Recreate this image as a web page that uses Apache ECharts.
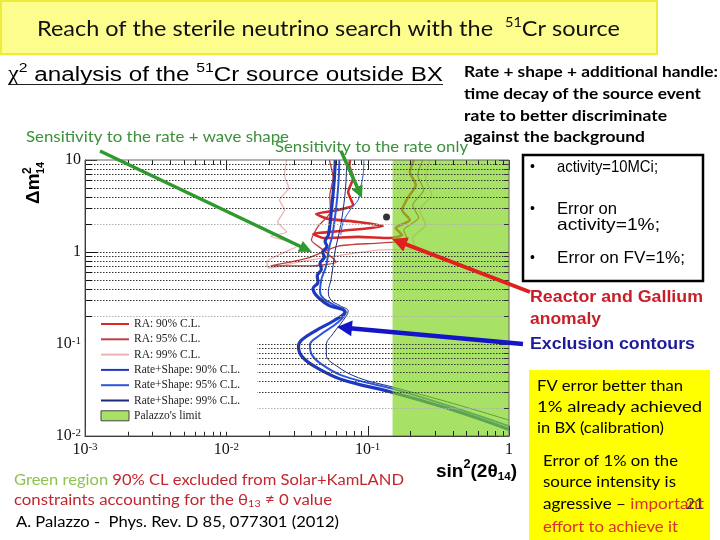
<!DOCTYPE html>
<html><head><meta charset="utf-8">
<script src="https://cdn.jsdelivr.net/npm/echarts@6/dist/echarts.min.js"></script>
<style>html,body{margin:0;padding:0;background:#fff;}#c{width:720px;height:540px;}</style>
</head><body><div id="c"></div>
<script>
// ---------- data ----------
const sin2Range = [0.001, 1];
const dm2Range = [0.01, 10];
const xDecades = [0.001, 0.01, 0.1, 1];
const yDecades = [0.01, 0.1, 1, 10];
const minorMultipliers = [2, 3, 4, 5, 6, 7, 8, 9];
const palazzoRegion = [0.15, 1];
const legendNames = ['RA: 90% C.L.', 'RA: 95% C.L.', 'RA: 99% C.L.', 'Rate+Shape: 90% C.L.', 'Rate+Shape: 95% C.L.', 'Rate+Shape: 99% C.L.', "Palazzo's limit"];

const ra90 = [[0.212,10],[0.199,7.41],[0.219,5.35],[0.192,3.86],[0.175,2.86],[0.199,2.23],[0.158,1.82],[0.175,1.53],[0.144,1.42],[0.0856,1.46],[0.0486,1.42],[0.0413,1.57],[0.0671,1.70],[0.128,1.92],[0.0856,2.12],[0.0527,2.29],[0.0432,2.59],[0.0619,2.86],[0.0789,3.24],[0.0728,4.49],[0.0789,6.37],[0.074,8.83],[0.0752,10]];
const ra95 = [[0.245,10],[0.226,6.88],[0.249,4.72],[0.208,3.24],[0.230,2.35],[0.180,1.73],[0.192,1.35],[0.118,1.25],[0.0619,1.16],[0.0381,0.861],[0.0206,0.705],[0.0381,0.705],[0.060,0.778],[0.0486,1.05],[0.040,1.35],[0.0448,1.92],[0.0545,2.72],[0.054,4.17],[0.057,6.37],[0.0535,10]];
const ra99 = [[0.275,10],[0.257,6.37],[0.284,4.17],[0.233,2.86],[0.257,1.97],[0.208,1.42],[0.219,1.10],[0.118,1.05],[0.0671,0.93],[0.0324,0.778],[0.0200,0.670],[0.0193,0.778],[0.0324,1.19],[0.0206,1.49],[0.0267,1.65],[0.0231,2.12],[0.0258,2.86],[0.0238,3.67],[0.0276,4.97],[0.0258,6.88],[0.0267,10]];
const rs90 = [[0.059,10],[0.058,6.06],[0.055,2.53],[0.0527,1.53],[0.050,1.30],[0.0515,1.15],[0.048,1.0],[0.0494,0.88],[0.046,0.75],[0.047,0.65],[0.044,0.55],[0.0445,0.47],[0.041,0.40],[0.042,0.36],[0.0448,0.32],[0.0527,0.265],[0.069,0.223],[0.058,0.18],[0.043,0.14],[0.034,0.110],[0.0324,0.093],[0.0346,0.072],[0.043,0.056],[0.067,0.0406],[0.146,0.0301],[0.367,0.0200],[1,0.0118]];
const rs95 = [[0.063,10],[0.062,5.35],[0.059,2.53],[0.056,1.46],[0.054,1.2],[0.0527,1.0],[0.051,0.72],[0.049,0.6],[0.047,0.50],[0.046,0.37],[0.049,0.31],[0.058,0.265],[0.070,0.223],[0.062,0.173],[0.046,0.125],[0.039,0.0975],[0.040,0.078],[0.046,0.062],[0.067,0.045],[0.151,0.0325],[0.367,0.0215],[1,0.0128]];
const rs99 = [[0.071,10],[0.070,5.35],[0.067,2.86],[0.063,1.65],[0.059,1.05],[0.057,0.72],[0.055,0.50],[0.0527,0.37],[0.055,0.30],[0.064,0.26],[0.0728,0.228],[0.067,0.18],[0.057,0.13],[0.051,0.0975],[0.051,0.076],[0.060,0.058],[0.086,0.043],[0.151,0.034],[0.367,0.0235],[1,0.0149]];
const rateOnly = [[0.094,10],[0.093,7.0],[0.0885,4.72],[0.0856,3.67],[0.075,2.86],[0.067,2.1],[0.0646,1.53]];
const bestFit = [[0.136, 2.4]];

// ---------- helpers ----------
const LATO = 'Lato, "Open Sans", sans-serif';
const ARIAL = '"Liberation Sans", Arial, sans-serif';
const TIMES = '"Liberation Serif", "Times New Roman", serif';
const mctx = document.createElement('canvas').getContext('2d');
function measure(t, s, w, f) { mctx.font = w + ' ' + s + 'px ' + f; return mctx.measureText(t).width; }
function run(x, y, parts, width, align) {
  let cx = 0; const ch = [];
  parts.forEach(p => {
    const w = p.w || 'normal';
    ch.push({type:'text', x: cx, y: p.dy || 0, z: 100, style:{text:p.t, fontSize:p.s, fontWeight:w, fontFamily:p.f, fill:p.c || '#000', align:'left', verticalAlign:'middle', textAlign:'left', textVerticalAlign:'middle'}});
    cx += measure(p.t, p.s, w, p.f);
  });
  const sx = width ? width / cx : 1;
  let gx = x;
  if (align === 'center') gx = x - cx * sx / 2;
  if (align === 'right') gx = x - cx * sx;
  return {type:'group', x: gx, y: y, scaleX: sx, z: 100, children: ch};
}
function arrow(x1, y1, x2, y2, color, w, hl, hw) {
  const a = Math.atan2(y2 - y1, x2 - x1);
  const bx = x2 - hl * Math.cos(a), by = y2 - hl * Math.sin(a);
  const px = -Math.sin(a) * hw, py = Math.cos(a) * hw;
  return [
    {type:'line', z: 90, shape:{x1:x1, y1:y1, x2:bx + Math.cos(a)*2, y2:by + Math.sin(a)*2}, style:{stroke:color, lineWidth:w}},
    {type:'polygon', z: 90, shape:{points:[[x2,y2],[bx+px,by+py],[bx-px,by-py]]}, style:{fill:color}}
  ];
}
function supLabel(v) {
  const e = Math.round(Math.log10(v));
  if (e === 0) return '{b|1}';
  if (e === 1) return '{b|10}';
  return '{b|10}{s|' + e + '}';
}

// tick data built from the decade lists
const yTickData = [];
yDecades.forEach(d => {
  yTickData.push([0.03, d, 1]);
  if (d < dm2Range[1]) minorMultipliers.forEach(m => yTickData.push([0.03, d * m, 0]));
});
const xTickData = [];
xDecades.forEach(d => {
  xTickData.push([d, 0.1, 1]);
  if (d < sin2Range[1]) minorMultipliers.forEach(m => xTickData.push([d * m, 0.1, 0]));
});

function lineSeries(name, data, color, width, z, smooth) {
  return {type:'line', name, data, showSymbol:false, symbol:'none', smooth: smooth, z: z,
    lineStyle:{color, width}, itemStyle:{color}, silent:true};
}

const chart = echarts.init(document.getElementById('c'), null, {renderer:'canvas'});

const graphics = [];
graphics.push({type:'rect', z: 80, shape:{x:1, y:1, width:656, height:53}, style:{fill:'#fdfd8e', stroke:'#ecec3a', lineWidth:2}});
graphics.push(run(37, 29, [
  {t:'Reach of the sterile neutrino search with the  ', s:21, f:LATO, c:'#111'},
  {t:'51', s:13, f:LATO, c:'#111', dy:-6},
  {t:'Cr source', s:21, f:LATO, c:'#111'}], 583));
graphics.push(run(8, 75, [
  {t:'χ', s:20, f:TIMES, c:'#000'},
  {t:'2', s:13, f:ARIAL, c:'#000', dy:-7},
  {t:' analysis of the ', s:20, f:ARIAL, c:'#000'},
  {t:'51', s:13, f:ARIAL, c:'#000', dy:-7},
  {t:'Cr source outside BX', s:20, f:ARIAL, c:'#000'}], 435));
graphics.push({type:'line', z: 100, shape:{x1:8, y1:84.5, x2:443, y2:84.5}, style:{stroke:'#222', lineWidth:1}});

graphics.push(run(464, 72, [{t:'Rate + shape + additional handle:', s:16, w:'bold', f:LATO}], 254));
graphics.push(run(464, 94, [{t:'time decay of the source event', s:16, w:'bold', f:LATO}], 237));
graphics.push(run(464, 116, [{t:'rate to better discriminate', s:16, w:'bold', f:LATO}], 203));
graphics.push(run(464, 137, [{t:'against the background', s:16, w:'bold', f:LATO}], 181));

graphics.push(run(26, 137, [{t:'Sensitivity to the rate + wave shape', s:15, f:LATO, c:'#3a913a'}], 263));
graphics.push(run(275, 147, [{t:'Sensitivity to the rate only', s:15, f:LATO, c:'#3a913a'}], 193));

arrow(100, 151, 312, 252, '#2e9a2e', 3.5, 13, 6).forEach(g => graphics.push(g));
arrow(341, 151, 362, 198, '#2e9a2e', 3.5, 12, 6).forEach(g => graphics.push(g));
arrow(530, 292, 392, 239, '#e01f1f', 4, 15, 7.5).forEach(g => graphics.push(g));
arrow(523, 344, 337, 327, '#1414c8', 4.5, 15, 8).forEach(g => graphics.push(g));

// bullet box
graphics.push({type:'rect', z: 80, shape:{x:523, y:155, width:180, height:126}, style:{fill:'#fff', stroke:'#000', lineWidth:2.5}});
[[167,'activity=10MCi;',101],[258,'Error on FV=1%;',128],[209,'Error on',60]].forEach(r => {
  graphics.push(run(530, r[0], [{t:'•', s:14, f:ARIAL}]));
  graphics.push(run(557, r[0], [{t:r[1], s:16.5, f:ARIAL}], r[2]));
});
graphics.push(run(557, 225, [{t:'activity=1%;', s:16.5, f:ARIAL}], 103));

graphics.push(run(530, 297, [{t:'Reactor and Gallium', s:16.5, w:'bold', f:ARIAL, c:'#c81e28'}], 173));
graphics.push(run(530, 319, [{t:'anomaly', s:16.5, w:'bold', f:ARIAL, c:'#c81e28'}], 71));
graphics.push(run(530, 344, [{t:'Exclusion contours', s:16.5, w:'bold', f:ARIAL, c:'#1c1c9a'}], 165));

// yellow notes
graphics.push({type:'rect', z: 80, shape:{x:529, y:370, width:181, height:170}, style:{fill:'#ffff00'}});
graphics.push(run(537, 386, [{t:'FV error better than', s:15.5, f:LATO}], 146));
graphics.push(run(537, 407, [{t:'1% already achieved', s:15.5, f:LATO}], 165));
graphics.push(run(537, 428, [{t:'in BX (calibration)', s:15.5, f:LATO}], 127));
graphics.push(run(543, 461, [{t:'Error of 1% on the', s:15.5, f:LATO}], 135));
graphics.push(run(543, 482, [{t:'source intensity is', s:15.5, f:LATO}], 133));
graphics.push(run(543, 504, [{t:'agressive – ', s:15.5, f:LATO}, {t:'important', s:15.5, f:LATO, c:'#d9302a'}], 161));
graphics.push(run(686, 504, [{t:'21', s:15, f:LATO, c:'#333'}]));
graphics.push(run(543, 527, [{t:'effort to achieve it', s:15.5, f:LATO, c:'#d9302a'}], 135));

// bottom notes
graphics.push(run(14, 480, [{t:'Green region ', s:15.5, f:LATO, c:'#8dc450'}, {t:'90% CL excluded from Solar+KamLAND', s:15.5, f:LATO, c:'#c3262e'}], 390));
graphics.push(run(14, 500, [{t:'constraints accounting for the θ', s:15.5, f:LATO, c:'#c3262e'}, {t:'13', s:10, f:LATO, c:'#c3262e', dy:4}, {t:' ≠ 0 value', s:15.5, f:LATO, c:'#c3262e'}], 318));
graphics.push(run(16, 522, [{t:'A. Palazzo -  Phys. Rev. D 85, 077301 (2012)', s:15.5, f:LATO, c:'#000'}], 323));

// axis names
graphics.push(run(436, 472, [
  {t:'sin', s:18, w:'bold', f:ARIAL}, {t:'2', s:12, w:'bold', f:ARIAL, dy:-7},
  {t:'(2θ', s:18, w:'bold', f:ARIAL}, {t:'14', s:11, w:'bold', f:ARIAL, dy:5},
  {t:')', s:18, w:'bold', f:ARIAL}], 81));
graphics.push({type:'group', x:34, y:204, rotation:Math.PI/2, z:100, children:[
  {type:'text', x:0, y:0, z:100, style:{text:'Δm', fontSize:19, fontWeight:'bold', fontFamily:ARIAL, fill:'#000', align:'left', verticalAlign:'middle', textAlign:'left', textVerticalAlign:'middle'}},
  {type:'text', x:30, y:-6, z:100, style:{text:'2', fontSize:12, fontWeight:'bold', fontFamily:ARIAL, fill:'#000', align:'left', verticalAlign:'middle', textAlign:'left', textVerticalAlign:'middle'}},
  {type:'text', x:30, y:7, z:100, style:{text:'14', fontSize:11, fontWeight:'bold', fontFamily:ARIAL, fill:'#000', align:'left', verticalAlign:'middle', textAlign:'left', textVerticalAlign:'middle'}}
]});

const labelRich = {
  b: {fontFamily: TIMES, fontSize: 16, color: '#111'},
  s: {fontFamily: TIMES, fontSize: 11, color: '#111', verticalAlign: 'top'}
};

const option = {
  animation: false,
  backgroundColor: '#fff',
  grid: {left: 85, top: 160, width: 424, height: 276, show: true, borderColor: '#666', borderWidth: 1, backgroundColor: 'transparent', z: 6},
  xAxis: {type: 'log', logBase: 10, min: sin2Range[0], max: sin2Range[1],
    axisLine: {show: true, lineStyle: {color: '#111', width: 1}}, axisTick: {show: false}, splitLine: {show: false},
    axisLabel: {margin: 6, formatter: supLabel, rich: labelRich, showMinLabel: true, showMaxLabel: true}},
  yAxis: {type: 'log', logBase: 10, min: dm2Range[0], max: dm2Range[1],
    axisLine: {show: true, lineStyle: {color: '#111', width: 1}}, axisTick: {show: false}, splitLine: {show: false},
    axisLabel: {margin: 4, formatter: supLabel, rich: labelRich, showMinLabel: true, showMaxLabel: true}},
  legend: {
    orient: 'vertical', left: 86, top: 317, z: 20, backgroundColor: '#fff', padding: [1, 17, 10, 14],
    itemWidth: 28, itemHeight: 10, itemGap: 3.3, selectedMode: false,
    textStyle: {fontFamily: TIMES, fontSize: 11.5, color: '#222', lineHeight: 12},
    data: legendNames.map(n => n === "Palazzo's limit"
      ? {name: n, icon: 'rect', itemStyle: {color: '#a7e266', borderColor: '#444', borderWidth: 1, opacity: 1}}
      : {name: n, itemStyle: {opacity: 0}})
  },
  graphic: {elements: graphics},
  series: [
    lineSeries(legendNames[2], ra99, '#f2b0b0', 1.3, 2, 0.2),
    lineSeries(legendNames[1], ra95, '#bf4040', 1.3, 2, 0.2),
    lineSeries(legendNames[0], ra90, '#d62a2a', 2.6, 2, 0.2),
    lineSeries('rate only', rateOnly, '#3355dd', 1, 2, 0.3),
    lineSeries(legendNames[5], rs99, '#1c2a7a', 1, 2, 0.4),
    lineSeries(legendNames[4], rs95, '#2b57e0', 2, 2, 0.4),
    lineSeries(legendNames[3], rs90, '#1f38c0', 3.2, 2, 0.4),
    {type: 'scatter', name: 'best fit', data: bestFit, symbolSize: 7, itemStyle: {color: '#000'}, z: 5, silent: true},
    {type: 'custom', name: legendNames[6], coordinateSystem: 'cartesian2d', z: 3, silent: true,
      itemStyle: {color: '#a7e266'}, encode: {x: [0, 2], y: [1, 3]},
      data: [[palazzoRegion[0], dm2Range[1], palazzoRegion[1], dm2Range[0]]],
      renderItem: function (params, api) {
        const p0 = api.coord([api.value(0), api.value(1)]);
        const p1 = api.coord([api.value(2), api.value(3)]);
        return {type: 'rect', shape: {x: p0[0], y: p0[1], width: p1[0] - p0[0], height: p1[1] - p0[1]},
          style: {fill: 'rgba(125,212,30,0.68)'}};
      }},
    {type: 'custom', name: 'ygrid', coordinateSystem: 'cartesian2d', z: 4, silent: true,
      encode: {x: 0, y: 1}, data: yTickData,
      renderItem: function (params, api) {
        const v = api.value(1), major = api.value(2);
        const p0 = api.coord([sin2Range[0], v]), p1 = api.coord([sin2Range[1], v]);
        const y = Math.round(p0[1]) + 0.5;
        const mant = v / Math.pow(10, Math.floor(Math.log10(v) + 1e-9));
        const light = Math.abs(mant - 2) < 1e-6;
        const ch = [];
        const isEdge = Math.abs(v - dm2Range[0]) < 1e-9 || Math.abs(v - dm2Range[1]) < 1e-9;
        if (!isEdge) ch.push({type: 'line', shape: {x1: p0[0], y1: y, x2: p1[0], y2: y}, style: {stroke: light ? '#b0b0b0' : '#333', lineWidth: 1, lineDash: [1.5, 1.5]}});
        ch.push({type: 'line', shape: {x1: p0[0], y1: y, x2: p0[0] + (major ? 12 : 7), y2: y}, style: {stroke: '#111', lineWidth: 1}});
        ch.push({type: 'line', shape: {x1: p1[0] - (major ? 10 : 5), y1: y, x2: p1[0], y2: y}, style: {stroke: '#333', lineWidth: 1}});
        return {type: 'group', children: ch};
      }},
    {type: 'custom', name: 'xgrid', coordinateSystem: 'cartesian2d', z: 4, silent: true,
      encode: {x: 0, y: 1}, data: xTickData,
      renderItem: function (params, api) {
        const v = api.value(0), major = api.value(2);
        const pb = api.coord([v, dm2Range[0]]), pt = api.coord([v, dm2Range[1]]);
        const x = Math.round(pb[0]) + 0.5;
        const len = major ? 10 : 5;
        return {type: 'group', children: [
          {type: 'line', shape: {x1: x, y1: pb[1], x2: x, y2: pb[1] - len}, style: {stroke: '#222', lineWidth: 1}},
          {type: 'line', shape: {x1: x, y1: pt[1], x2: x, y2: pt[1] + len}, style: {stroke: '#222', lineWidth: 1}}
        ]};
      }}
  ]
};
chart.setOption(option);
</script>
</body></html>
